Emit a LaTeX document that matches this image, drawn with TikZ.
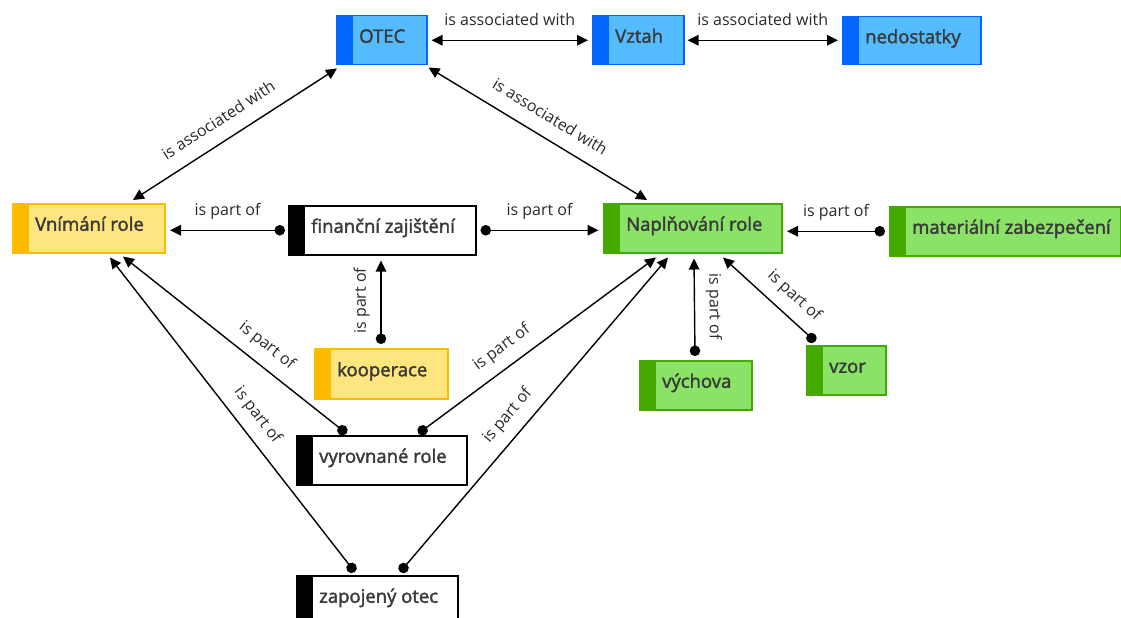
\documentclass[tikz,border=0pt]{standalone}
\usepackage{fontspec}
\setmainfont{Open Sans}
\newfontfamily\boxfont{Open Sans}[FakeBold=2]
\usetikzlibrary{arrows.meta,calc}
\definecolor{bfill}{HTML}{55BBFF}
\definecolor{bdark}{HTML}{0066FF}
\definecolor{yfill}{HTML}{FFE57F}
\definecolor{ydark}{HTML}{FFBB00}
\definecolor{gfill}{HTML}{8AE366}
\definecolor{gdark}{HTML}{44AA00}
\definecolor{lbltxt}{HTML}{2A2A2A}
\definecolor{boxtxtc}{HTML}{3A3A3A}
\tikzset{
  boxbase/.style={rectangle, anchor=north west, inner sep=0pt, line width=1.5pt},
  edgelbl/.style={font=\fontsize{16}{18}\selectfont, text=lbltxt, inner sep=0pt, text height=12pt, text depth=4pt},
  boxtxt/.style={font=\boxfont\fontsize{18.5}{20}\selectfont, text=boxtxtc, inner sep=0pt, anchor=base west},
  conn/.style={line width=1.4pt, draw=black, {Circle[length=10.5pt]}-{Triangle[length=11pt,width=10.5pt]}},
  revconn/.style={line width=1.4pt, draw=black, {Triangle[length=11pt,width=10.5pt]}-{Circle[length=10.5pt]}},
  biconn/.style={line width=1.4pt, draw=black, {Triangle[length=11pt,width=10.5pt]}-{Triangle[length=11pt,width=10.5pt]}},
}
\newcommand\mybox[8]{%
  \node[boxbase, fill=#6, draw=#7, minimum width=#4pt, minimum height=#5pt] (#1) at (#2,#3) {};
  \fill[#7] (#1.north west) rectangle ($(#1.south west)+(17,0)$);
  \node[boxtxt] (#1t) at ($(#1.west)+(23,2.5)$) {#8};
}
\begin{document}
\begin{tikzpicture}[x=1pt,y=-1pt]
\useasboundingbox[fill=white] (0,0) rectangle (1121,618);
\mybox{otec}{336}{15}{90}{49}{bfill}{bdark}{OTEC}
\mybox{vztah}{592}{15}{91}{49}{bfill}{bdark}{Vztah}
\mybox{nedost}{842}{16}{138}{48}{bfill}{bdark}{nedostatky}
\mybox{vnimani}{12}{203}{152}{49}{yfill}{ydark}{Vnímání role}
\mybox{financni}{288}{205}{187}{49}{white}{black}{finanční zajištění}
\mybox{naplnovani}{603}{203}{178}{49}{gfill}{gdark}{Naplňování role}
\mybox{material}{889}{206}{231}{49}{gfill}{gdark}{materiální zabezpečení}
\mybox{kooperace}{314}{348}{133}{50}{yfill}{ydark}{kooperace}
\mybox{vychova}{639}{360}{112}{49}{gfill}{gdark}{výchova}
\mybox{vzor}{806}{345}{79}{49}{gfill}{gdark}{vzor}
\mybox{vyrovnane}{296}{435}{170}{49}{white}{black}{vyrovnané role}
\mybox{zapojeny}{296}{575}{161}{49}{white}{black}{zapojený otec}

\draw[biconn] ($(otec.east)+(4,0)$) -- node[edgelbl, above=10.5pt]{is associated with} ($(vztah.west|-otec.east)+(-4,0)$);
\draw[biconn] ($(vztah.east)+(3,0)$) -- node[edgelbl, above=10.5pt]{is associated with} ($(nedost.west|-vztah.east)+(-4,0)$);
\draw[biconn] ($(vnimani.north west)+(121,-3)$) -- node[edgelbl, sloped, above=10.5pt, pos=0.474]{is associated with} ($(otec.south west)+(1,3)$);
\draw[biconn] ($(otec.south east)+(1,2)$) -- node[edgelbl, sloped, above=10.5pt, pos=0.507]{is associated with} ($(naplnovani.north west)+(44,-3)$);

\draw[conn] ($(financni.west)+(-3,0)$) -- node[edgelbl, above=10.5pt]{is part of} ($(vnimani.east|-financni.west)+(4.5,0)$);
\draw[conn] ($(financni.east)+(4,0)$) -- node[edgelbl, above=10.5pt]{is part of} ($(naplnovani.west|-financni.east)+(-4.5,0)$);
\draw[conn] ($(material.west)+(-4,0)$) -- node[edgelbl, above=10.5pt]{is part of} ($(naplnovani.east|-material.west)+(4.5,0)$);
\draw[conn] ($(kooperace.north west)+(67,-4)$) -- node[edgelbl, sloped, above=10.5pt, pos=0.52]{is part of} ($(financni.south west)+(93,5)$);
\draw[revconn] ($(naplnovani.south west)+(91,5)$) -- node[edgelbl, sloped, above=10.5pt, pos=0.495]{is part of} ($(vychova.north west)+(56,-4)$);
\draw[conn] ($(vzor.north west)+(9.3,-3.5)$) -- node[edgelbl, sloped, above=10.5pt, pos=0.37]{is part of} ($(naplnovani.south west)+(120,4)$);
\draw[conn] ($(vyrovnane.north west)+(50.5,-1.5)$) -- node[edgelbl, sloped, above=10.5pt, pos=0.41]{is part of} ($(vnimani.south west)+(111,3)$);
\draw[conn] ($(zapojeny.north west)+(58.8,-3)$) -- node[edgelbl, sloped, above=10.5pt, pos=0.46]{is part of} ($(vnimani.south west)+(98,4)$);
\draw[conn] ($(vyrovnane.north west)+(122.4,-1.5)$) -- node[edgelbl, sloped, above=10.5pt, pos=0.40]{is part of} ($(naplnovani.south west)+(53,4)$);
\draw[conn] ($(zapojeny.north west)+(104.1,-3)$) -- node[edgelbl, sloped, above=10.5pt, pos=0.457]{is part of} ($(naplnovani.south west)+(65,4)$);
\end{tikzpicture}
\end{document}
